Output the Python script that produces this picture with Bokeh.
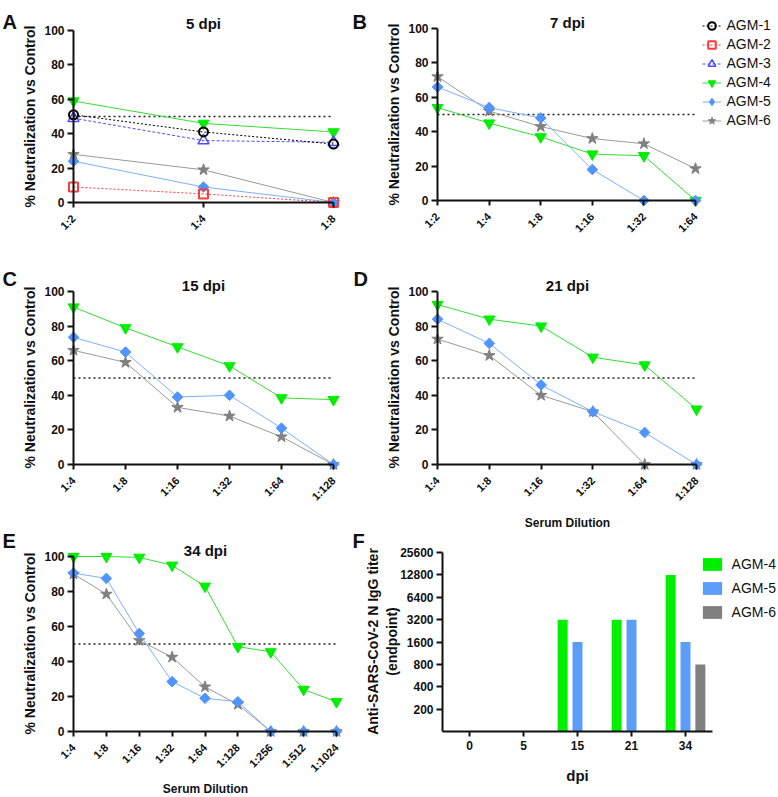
import math
from bokeh.plotting import figure
from bokeh.models import (Range1d, FixedTicker, Label, Legend, LegendItem,
                          ColumnDataSource, NumeralTickFormatter)
from bokeh.layouts import column, row
from bokeh.transform import dodge
from bokeh.embed import file_html
from bokeh.resources import INLINE

FONT = "Liberation Sans"

# ---------------- data ----------------
dil_5dpi = ["1:2", "1:4", "1:8"]
dil_7dpi = ["1:2", "1:4", "1:8", "1:16", "1:32", "1:64"]
dil_15dpi = ["1:4", "1:8", "1:16", "1:32", "1:64", "1:128"]
dil_21dpi = ["1:4", "1:8", "1:16", "1:32", "1:64", "1:128"]
dil_34dpi = ["1:4", "1:8", "1:16", "1:32", "1:64", "1:128", "1:256", "1:512", "1:1024"]

agm1_5dpi = [51, 41, 34]
agm2_5dpi = [9, 5, 0]
agm3_5dpi = [49, 36, 35]
agm4_5dpi = [59, 46, 41]
agm5_5dpi = [24, 9, 0]
agm6_5dpi = [28, 19, 0]

agm4_7dpi = [54, 45, 37, 27, 26, 0]
agm5_7dpi = [66, 54, 48, 18, 0, 0]
agm6_7dpi = [72, 52, 43, 36, 33, 18.5]

agm4_15dpi = [91, 79, 68, 57, 38.5, 37.5]
agm5_15dpi = [73.5, 65, 39, 40, 21, 0]
agm6_15dpi = [66, 59, 33, 28, 16, 0]

agm4_21dpi = [92.5, 84, 80, 62, 57.5, 32]
agm5_21dpi = [84, 70, 46, 30.5, 18.5, 0]
agm6_21dpi = [72.5, 63, 40, 30.5, 0, 0]

agm4_34dpi = [100, 100, 99.5, 95, 83, 48.5, 45.5, 24, 17]
agm5_34dpi = [90.5, 87.5, 56, 28.5, 19, 17, 0, 0, 0]
agm6_34dpi = [90, 78.5, 52, 42.5, 25.5, 15.5, 0, 0, 0]

# AGM-1..3 were not measured at 7 dpi (legend entries only)
no_data = [float("nan")]

neut_ticks = [0, 20, 40, 60, 80, 100]
threshold = 50

dpi_cats = ["0", "5", "15", "21", "34"]
igg_agm4 = [None, None, 3200, 3200, 12800]
igg_agm5 = [None, None, 1600, 3200, 1600]
igg_agm6 = [None, None, None, None, 800]
igg_ticks = [200, 400, 800, 1600, 3200, 6400, 12800, 25600]
igg_floor = 100

# ---------------- styles ----------------
STYLE = {
    "AGM-1": dict(marker="circle", size=9, fill=None, mline="#000000", mlw=2, line="#000000", dash="2 2", angle=0),
    "AGM-2": dict(marker="square", size=9, fill=None, mline="#ff3c3c", mlw=2, line="#ff3c3c", dash="2 2", angle=0),
    "AGM-3": dict(marker="triangle", size=11, fill=None, mline="#4d4dff", mlw=1.5, line="#4d4dff", dash="3 2", angle=0),
    "AGM-4": dict(marker="inverted_triangle", size=11, fill="#00ee00", mline="#00ee00", mlw=1, line="#33dd33", dash="solid", angle=0),
    "AGM-5": dict(marker="square", size=7.5, fill="#4f94ff", mline="#4f94ff", mlw=1, line="#7fb0ff", dash="solid", angle=math.pi / 4),
    "AGM-6": dict(marker="star", size=12, fill="#808080", mline="#808080", mlw=1, line="#9a9a9a", dash="solid", angle=0),
}
BAR_COLORS = {"AGM-4": "#00f000", "AGM-5": "#5c9dfa", "AGM-6": "#808080"}
INK = "#111111"


def add_text(p, g, x, y, text, size, bold=True, angle=0.0, align="center", baseline="middle"):
    p.add_layout(Label(x=x - g["left"], y=g["bottom"] - y, x_units="screen", y_units="screen",
                       text=text, text_font=FONT, text_font_size=f"{size}px",
                       text_font_style="bold" if bold else "normal", angle=angle,
                       text_align=align, text_baseline=baseline, text_color=INK))


def base_fig(fig_box, x_range, y_range, **kw):
    fx0, fy0, fx1, fy1 = fig_box
    p = figure(width=fx1 - fx0, height=fy1 - fy0, output_backend="svg", toolbar_location=None,
               x_range=x_range, y_range=y_range,
               min_border_left=0, min_border_right=0, min_border_top=0, min_border_bottom=0, **kw)
    p.title.visible = False
    p.grid.visible = False
    p.outline_line_color = None
    return p


def style_axes(p, xsize):
    p.axis.axis_line_width = 2
    p.axis.axis_line_color = INK
    p.axis.major_tick_line_width = 2
    p.axis.major_tick_line_color = INK
    p.axis.major_tick_in = 0
    p.xaxis.major_tick_out = 5
    p.yaxis.major_tick_out = 6
    p.axis.minor_tick_line_color = None
    p.axis.major_label_text_font = FONT
    p.axis.major_label_text_font_style = "bold"
    p.axis.major_label_text_color = INK
    p.yaxis.major_label_text_font_size = "12px"
    p.xaxis.major_label_text_font_size = xsize
    p.xaxis.major_label_standoff = 9
    p.yaxis.major_label_standoff = 3


def neut_fig(fig_box, ax_box, cats, series):
    fx0, fy0, fx1, fy1 = fig_box
    ax0, ay0, ax1, ay1 = ax_box
    n = len(cats)
    kx = (n - 1) / (ax1 - ax0)
    ky = 100 / (ay1 - ay0)
    p = base_fig(fig_box,
                 Range1d(-(ax0 - fx0) * kx, (n - 1) + (fx1 - ax1) * kx),
                 Range1d(-(fy1 - ay1) * ky, 100 + (ay0 - fy0) * ky))
    xs = list(range(n))
    p.line([xs[0], xs[-1]], [threshold, threshold], line_color="#222222",
           line_dash="2 3", line_width=1.5)
    rends = {}
    for name, vals in series:
        st = STYLE[name]
        src = ColumnDataSource(dict(x=xs[:len(vals)], y=list(vals)))
        l = p.line("x", "y", source=src, line_color=st["line"], line_width=1, line_dash=st["dash"])
        s = p.scatter("x", "y", source=src, marker=st["marker"], size=st["size"], angle=st["angle"],
                      fill_color=st["fill"], line_color=st["mline"], line_width=st["mlw"])
        rends[name] = [l, s]
    p.xaxis.fixed_location = 0
    p.yaxis.fixed_location = 0
    p.xaxis.bounds = (0, n - 1)
    p.yaxis.bounds = (0, 100)
    p.xaxis.ticker = FixedTicker(ticks=xs)
    p.xaxis.major_label_overrides = {i: c for i, c in enumerate(cats)}
    p.xaxis.major_label_orientation = math.pi / 4
    p.yaxis.ticker = FixedTicker(ticks=neut_ticks)
    style_axes(p, "11px")
    g = dict(left=fx0, bottom=fy1)
    return p, g, rends


YLAB = "% Neutralization vs Control"

# ---------- A ----------
pA, gA, _ = neut_fig((0, 0, 383, 255), (73, 30, 333, 202), dil_5dpi,
                     [("AGM-6", agm6_5dpi), ("AGM-5", agm5_5dpi), ("AGM-4", agm4_5dpi),
                      ("AGM-3", agm3_5dpi), ("AGM-1", agm1_5dpi), ("AGM-2", agm2_5dpi)])
add_text(pA, gA, 203, 23, "5 dpi", 15, baseline="alphabetic")
add_text(pA, gA, 29, 116, YLAB, 14, angle=math.pi / 2)
add_text(pA, gA, 2, 21, "A", 20, align="left", baseline="alphabetic")
add_text(pA, gA, 352, 21, "B", 20, align="left", baseline="alphabetic")

# ---------- B ----------
pB, gB, rB = neut_fig((383, 0, 778, 255), (437, 28, 695, 200), dil_7dpi,
                      [("AGM-1", no_data), ("AGM-2", no_data), ("AGM-3", no_data),
                       ("AGM-6", agm6_7dpi), ("AGM-4", agm4_7dpi), ("AGM-5", agm5_7dpi)])
add_text(pB, gB, 567, 22, "7 dpi", 15, baseline="alphabetic")
add_text(pB, gB, 393, 114, YLAB, 14, angle=math.pi / 2)
# legend key for AGM-5 shown as a diamond (legend glyphs ignore marker angle)
st5 = STYLE["AGM-5"]
key5 = pB.scatter(x=no_data, y=no_data, marker="diamond", size=11,
                  fill_color=st5["fill"], line_color=st5["mline"])
legend_rends = dict(rB)
legend_rends["AGM-5"] = [rB["AGM-5"][0], key5]
legB = Legend(items=[LegendItem(label=k, renderers=legend_rends[k]) for k in
                     ["AGM-1", "AGM-2", "AGM-3", "AGM-4", "AGM-5", "AGM-6"]],
              location=(701.5 - gB["left"], gB["bottom"] - 129.5),
              glyph_width=19, glyph_height=19, label_height=19, spacing=0, padding=0, margin=0,
              label_standoff=6, label_text_font=FONT, label_text_font_size="14px",
              label_text_color=INK, border_line_color=None, background_fill_alpha=0)
pB.add_layout(legB)

# ---------- C ----------
pC, gC, _ = neut_fig((0, 255, 383, 508), (73, 291, 333, 464), dil_15dpi,
                     [("AGM-6", agm6_15dpi), ("AGM-5", agm5_15dpi), ("AGM-4", agm4_15dpi)])
add_text(pC, gC, 203, 285, "15 dpi", 15, baseline="alphabetic")
add_text(pC, gC, 29, 377, YLAB, 14, angle=math.pi / 2)
add_text(pC, gC, 2, 278, "C", 20, align="left", baseline="alphabetic")
add_text(pC, gC, 353, 278, "D", 20, align="left", baseline="alphabetic")

# ---------- D ----------
pD, gD, _ = neut_fig((383, 255, 778, 508), (437, 291, 696, 464), dil_21dpi,
                     [("AGM-6", agm6_21dpi), ("AGM-5", agm5_21dpi), ("AGM-4", agm4_21dpi)])
add_text(pD, gD, 567, 285, "21 dpi", 15, baseline="alphabetic")
add_text(pD, gD, 393, 377, YLAB, 14, angle=math.pi / 2)

# ---------- E ----------
pE, gE, _ = neut_fig((0, 508, 383, 797), (73, 556, 336, 731), dil_34dpi,
                     [("AGM-6", agm6_34dpi), ("AGM-5", agm5_34dpi), ("AGM-4", agm4_34dpi)])
add_text(pE, gE, 205, 550, "34 dpi", 15, baseline="alphabetic")
add_text(pE, gE, 29, 643, YLAB, 14, angle=math.pi / 2)
add_text(pE, gE, 205, 788, "Serum Dilution", 12, baseline="alphabetic")
add_text(pE, gE, 2, 540, "E", 20, align="left", baseline="alphabetic")
add_text(pE, gE, 352, 540, "F", 20, align="left", baseline="alphabetic")
add_text(pE, gE, 372, 641, "Anti-SARS-CoV-2 N IgG titer", 14, angle=math.pi / 2)

# ---------- F ----------
fbox = (383, 508, 778, 797)
fax = (442, 552, 712, 731)
nF = len(dpi_cats)
kxF = nF / (fax[2] - fax[0])
l2px = math.log2(igg_ticks[-1] / igg_floor) / (fax[3] - fax[1])
pF = base_fig(fbox,
              Range1d(-(fax[0] - fbox[0]) * kxF, nF + (fbox[2] - fax[2]) * kxF),
              Range1d(igg_floor * 2 ** (-(fbox[3] - fax[3]) * l2px),
                      igg_ticks[-1] * 2 ** ((fax[1] - fbox[1]) * l2px)),
              y_axis_type="log")
gF = dict(left=fbox[0], bottom=fbox[3])
xcen = [i + 0.5 for i in range(nF)]
bar_r = {}
for name, vals, off in [("AGM-4", igg_agm4, -0.275), ("AGM-5", igg_agm5, 0.0), ("AGM-6", igg_agm6, 0.275)]:
    xs = [c for c, v in zip(xcen, vals) if v is not None]
    ys = [v for v in vals if v is not None]
    src = ColumnDataSource(dict(x=xs, top=ys))
    bar_r[name] = pF.vbar(x=dodge("x", off), top="top", bottom=igg_floor,
                          width=0.185, source=src, fill_color=BAR_COLORS[name], line_color=None)
pF.xaxis.fixed_location = igg_floor
pF.yaxis.fixed_location = 0
pF.xaxis.bounds = (0, nF)
pF.yaxis.bounds = (igg_floor, igg_ticks[-1])
pF.xaxis.ticker = FixedTicker(ticks=xcen)
pF.xaxis.major_label_overrides = {x: c for x, c in zip(xcen, dpi_cats)}
pF.yaxis.ticker = FixedTicker(ticks=igg_ticks)
pF.yaxis.formatter = NumeralTickFormatter(format="0")
style_axes(pF, "12px")
pF.xaxis.major_label_standoff = 4
add_text(pF, gF, 391, 641, "(endpoint)", 14, angle=math.pi / 2)
add_text(pF, gF, 577, 775, "dpi", 15, baseline="alphabetic")
add_text(pF, gF, 567, 522, "Serum Dilution", 12, baseline="alphabetic")
legF = Legend(items=[LegendItem(label=k, renderers=[bar_r[k]]) for k in ["AGM-4", "AGM-5", "AGM-6"]],
              location=(699.6 - gF["left"], gF["bottom"] - 620),
              glyph_width=24, glyph_height=16, label_height=16, spacing=8, padding=0, margin=0,
              label_standoff=8, label_text_font=FONT, label_text_font_size="14px",
              label_text_color=INK, border_line_color=None, background_fill_alpha=0)
pF.add_layout(legF)

layout = column(row(pA, pB), row(pC, pD), row(pE, pF))
open("out.html", "w").write(file_html(layout, INLINE))
